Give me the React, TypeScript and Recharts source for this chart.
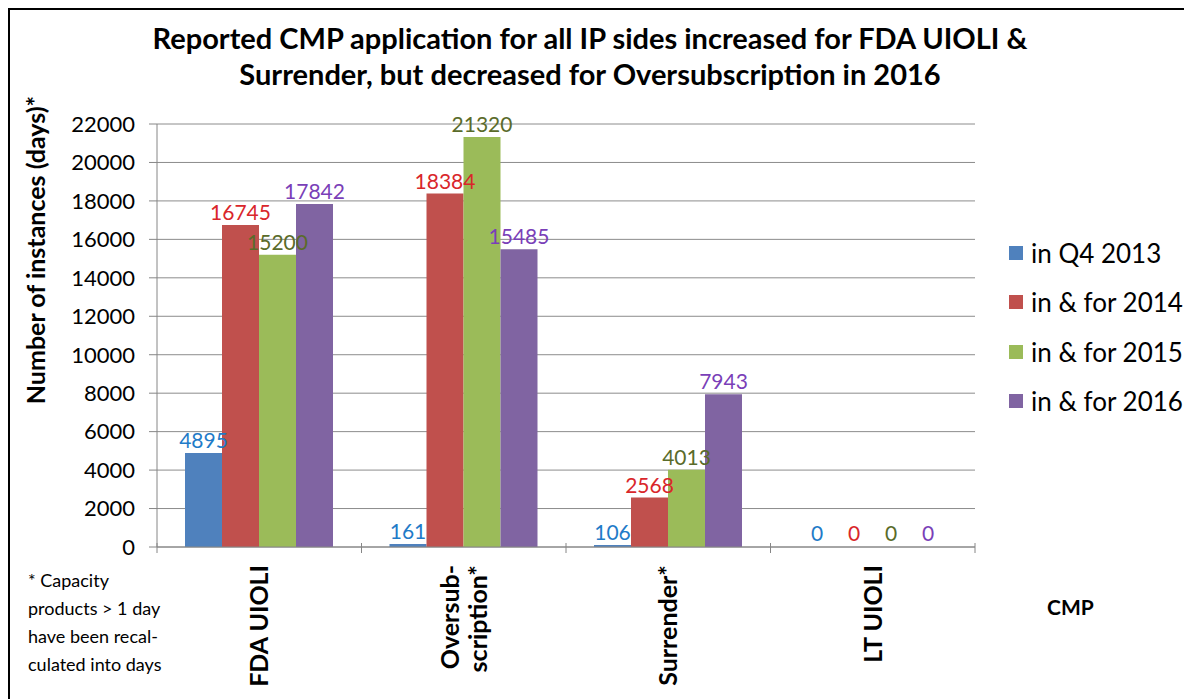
import { BarChart, Bar, XAxis, YAxis, CartesianGrid, LabelList, Cell } from 'recharts';

const categories = ['FDA UIOLI', 'Oversub-\nscription*', 'Surrender*', 'LT UIOLI'];
const q4_2013 = [4895, 161, 106, 0];
const y2014 = [16745, 18384, 2568, 0];
const y2015 = [15200, 21320, 4013, 0];
const y2016 = [17842, 15485, 7943, 0];
const yTicks = [0, 2000, 4000, 6000, 8000, 10000, 12000, 14000, 16000, 18000, 20000, 22000];

const series = [
  { key: 'q4', name: 'in Q4 2013', fill: '#4F81BD', label: '#1F7BC8' },
  { key: 'y14', name: 'in & for 2014', fill: '#C0504D', label: '#D9262B' },
  { key: 'y15', name: 'in & for 2015', fill: '#9BBB59', label: '#5A6B2A' },
  { key: 'y16', name: 'in & for 2016', fill: '#8064A2', label: '#7A3FB8' },
];

const data = categories.map((c, i) => ({
  cat: c,
  q4: q4_2013[i],
  y14: y2014[i],
  y15: y2015[i],
  y16: y2016[i],
}));

const FONT = 'Lato, "Open Sans", sans-serif';

function CatTick(props: any) {
  const { x, y, payload, index } = props;
  const lines = String(payload.value).split('\n');
  const half = payload.offset ?? 102;
  const fs = 25;
  return (
    <g>
      <line x1={x - half} y1={y - 12} x2={x - half} y2={y - 2} stroke="#868686" />
      {index === categories.length - 1 && (
        <line x1={x + half} y1={y - 12} x2={x + half} y2={y - 2} stroke="#868686" />
      )}
      <g transform={`translate(${x},${y + 10})`}>
        {lines.map((l, i) => (
          <text
            key={i}
            transform="rotate(-90)"
            x={0}
            y={(i - (lines.length - 1) / 2) * 28 + fs * 0.36}
            textAnchor="end"
            fontFamily={FONT}
            fontWeight="bold"
            fontSize={fs}
            fill="#000"
          >
            {l}
          </text>
        ))}
      </g>
    </g>
  );
}

export default function App() {
  return (
    <div style={{ position: 'absolute', left: 0, top: 0, width: 1184, height: 699, background: '#fff', overflow: 'hidden', fontFamily: FONT }}>
      <div style={{ position: 'absolute', left: 8, top: 8, width: 1200, height: 720, borderLeft: '2px solid #000', borderTop: '2px solid #000' }} />
      <div style={{ position: 'absolute', left: 0, top: 20, width: 1180, textAlign: 'center', fontWeight: 'bold', fontSize: 29, lineHeight: '36px', color: '#000' }}>
        Reported CMP application for all IP sides increased for FDA UIOLI &amp;
        <br />
        Surrender, but decreased for Oversubscription in 2016
      </div>
      <BarChart
        width={1184}
        height={699}
        data={data}
        margin={{ top: 124, right: 209, bottom: 0, left: 0 }}
        barCategoryGap={28}
        barGap={0}
        style={{ position: 'absolute', left: 0, top: 0 }}
      >
        <CartesianGrid vertical={false} stroke="#8C8C8C" />
        <XAxis
          dataKey="cat"
          height={152}
          tickLine={false}
          axisLine={{ stroke: '#868686' }}
          tick={<CatTick />}
          interval={0}
        />
        <YAxis
          width={157}
          domain={[0, 22000]}
          ticks={yTicks}
          interval={0}
          tickSize={8}
          tickMargin={14}
          tickLine={{ stroke: '#868686' }}
          axisLine={{ stroke: '#868686' }}
          tick={{ fill: '#000', fontSize: 22, fontFamily: FONT }}
          label={(p: any) => (
            <text
              transform={`translate(45, ${p.viewBox.y + 126}) rotate(-90)`}
              textAnchor="middle"
              fontFamily={FONT}
              fontWeight="bold"
              fontSize={25}
              fill="#000"
            >
              Number of instances (days)*
            </text>
          )}
        />
        {series.map((s) => (
          <Bar key={s.key} dataKey={s.key} name={s.name} fill={s.fill} minPointSize={1} isAnimationActive={false}>
            {data.map((d: any, i) => (
              <Cell key={i} fill={s.fill} fillOpacity={d[s.key] === 0 ? 0 : 1} />
            ))}
            <LabelList dataKey={s.key} position="top" offset={5} fill={s.label} fontSize={21} fontFamily={FONT} />
          </Bar>
        ))}
      </BarChart>
      <div style={{ position: 'absolute', left: 1009, top: 228, fontSize: 26, color: '#000' }}>
        {series.map((s) => (
          <div key={s.key} style={{ display: 'flex', alignItems: 'center', height: 49.5, whiteSpace: 'nowrap' }}>
            <span style={{ width: 14, height: 14, background: s.fill, marginRight: 8, display: 'inline-block' }} />
            {s.name}
          </div>
        ))}
      </div>
      <div style={{ position: 'absolute', left: 28, top: 566, fontSize: 18, lineHeight: '28px', color: '#000' }}>
        * Capacity
        <br />
        products &gt; 1 day
        <br />
        have been recal-
        <br />
        culated into days
      </div>
      <div style={{ position: 'absolute', left: 1047, top: 594, fontSize: 21, fontWeight: 'bold', color: '#000' }}>CMP</div>
    </div>
  );
}
